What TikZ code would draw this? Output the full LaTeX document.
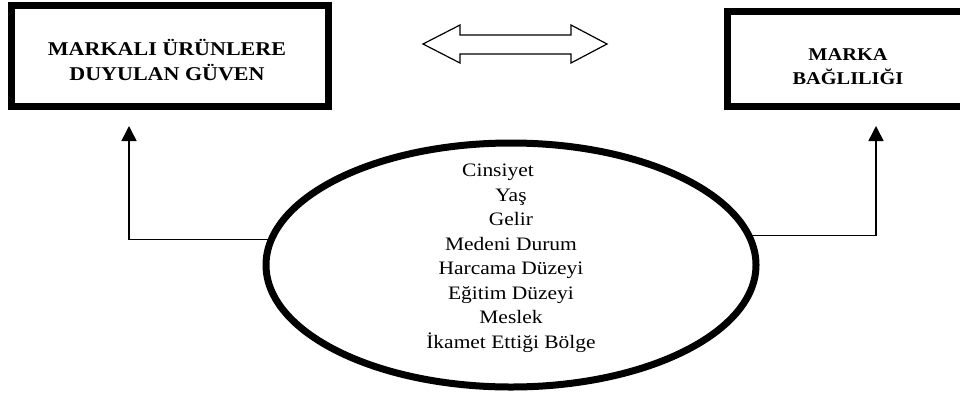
\documentclass[tikz,border=0pt]{standalone}
\usepackage{fontspec}
\setmainfont{Liberation Serif}[FakeStretch=1.13]
\usetikzlibrary{shapes.geometric,arrows.meta}
\tikzset{
  framebox/.style={draw, line width=7pt, rectangle, inner sep=0pt},
  boldlbl/.style={anchor=base, align=center, inner sep=0pt},
  conn/.style={line width=1.5pt, -{Triangle[length=15pt,width=15pt]}},
  dblarrow/.style={line width=1.2pt, line join=miter}
}
\begin{document}
\begin{tikzpicture}[x=1pt,y=-1pt]
\useasboundingbox (0,0) rectangle (960,394);
\clip (0,0) rectangle (960,394);
% boxes
\node[framebox, minimum width=317pt, minimum height=101pt] (b1) at (170,56) {};
\node[framebox, minimum width=241pt, minimum height=95pt] (b2) at (848,59) {};
\node[boldlbl, font={\fontsize{19.5}{25}\selectfont\bfseries}] (t1) at (167,80) {MARKALI ÜRÜNLERE\\DUYULAN GÜVEN};
\node[boldlbl, font={\fontsize{18}{24}\selectfont\bfseries}] (t2) at (848,84) {MARKA\\BAĞLILIĞI};
% double arrow
\draw[dblarrow] (423,44) -- (460,25) -- (460,35) -- (571,35) -- (571,25) -- (607,44)
  -- (571,63) -- (571,54) -- (460,54) -- (460,63) -- cycle;
% ellipse
\node[ellipse, draw, line width=7pt, minimum width=490pt, minimum height=244pt, inner sep=0pt] (ell) at (511,265) {};
\node[anchor=base, align=center, inner sep=0pt, font={\fontsize{19}{24.43}\selectfont}] (elltxt) at (511,348)
 {Cinsiyet\hspace*{26pt}\\Yaş\\Gelir\\Medeni Durum\\Harcama Düzeyi\\Eğitim Düzeyi\\Meslek\\İkamet Ettiği Bölge};
% connectors
\coordinate (lt) at (129,126);
\coordinate (rt) at (876,126);
\draw[conn] (ell.174.6) -| (lt);
\draw[conn] (ell.7.8) -| (rt);
\end{tikzpicture}
\end{document}
